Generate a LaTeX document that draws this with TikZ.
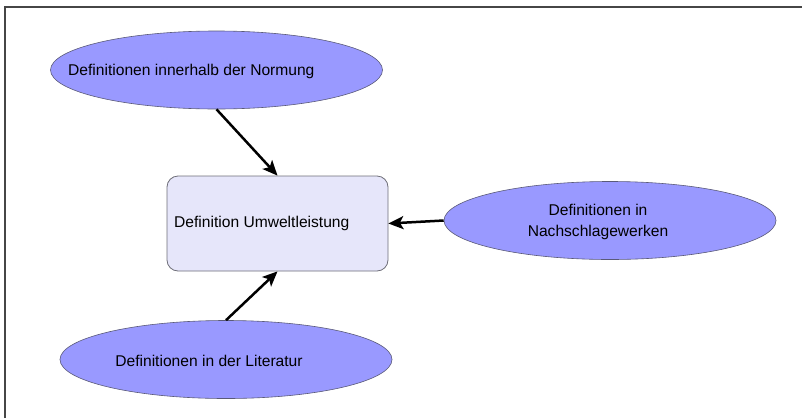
\documentclass[tikz,border=0pt]{standalone}
\usepackage{fontspec}
\setmainfont{Liberation Sans}
\usetikzlibrary{shapes.geometric,arrows.meta}
\definecolor{ellfill}{RGB}{153,153,255}
\definecolor{ellline}{RGB}{90,90,120}
\definecolor{boxfill}{RGB}{230,230,250}
\definecolor{boxline}{RGB}{110,110,120}
\definecolor{frameline}{RGB}{70,70,70}
\tikzset{
  source/.style={ellipse, draw=ellline, line width=0.6pt, fill=ellfill,
    minimum width=332pt, minimum height=78pt, inner sep=0pt},
  target/.style={rectangle, rounded corners=11pt, draw=boxline, line width=0.8pt,
    fill=boxfill, minimum width=221pt, minimum height=95pt, inner sep=0pt},
  label/.style={font=\fontsize{15.6pt}{21pt}\selectfont, inner sep=0pt, text=black, align=center},
  link/.style={line width=2.5pt, -{Stealth[length=15pt,width=13pt,inset=3.5pt]}}
}
\begin{document}
\begin{tikzpicture}[x=1pt,y=-1pt]
  \useasboundingbox (0,0) rectangle (802,418);
  % open frame: top and left edges only
  \draw[frameline, line width=2pt] (4.5,418) -- (4.5,6.5) -- (802,6.5);

  % central box
  \node[target] (box) at (277.5,223.5) {};
  \node[label, anchor=west] (boxtext) at (174,223) {Definition Umweltleistung};

  % sources
  \node[source] (norm) at (216.5,70) {};
  \node[label, anchor=west] (normtext) at (68,71) {Definitionen innerhalb der Normung};

  \node[source] (ref) at (610,220.5) {};
  \node[label] (reftext) at (598,221.5) {Definitionen in\\Nachschlagewerken};

  \node[source] (lit) at (226,359.5) {};
  \node[label] (littext) at (209,361) {Definitionen in der Literatur};

  % connectors
  \draw[link] (norm.south) -- (box.north);
  \draw[link] (ref.west) -- (box.east);
  \draw[link] (lit.north) -- (box.south);
\end{tikzpicture}
\end{document}
